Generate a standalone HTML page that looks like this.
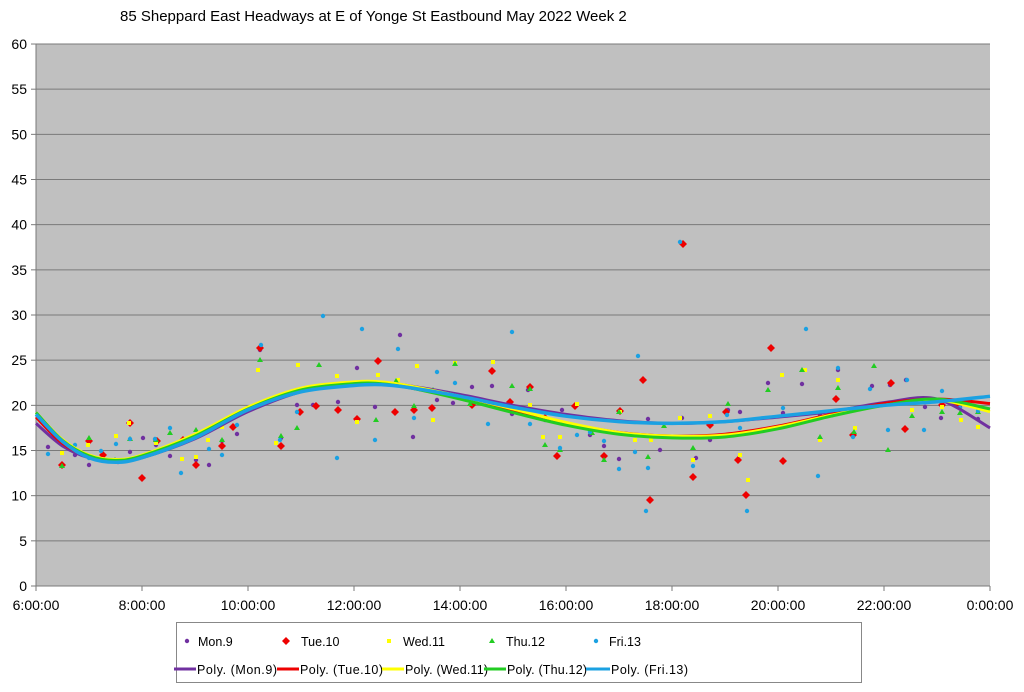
<!DOCTYPE html>
<html><head><meta charset="utf-8"><style>
body{margin:0;background:#fff;width:1024px;height:687px;overflow:hidden;font-family:"Liberation Sans",sans-serif}
</style></head><body>
<svg id="s" width="1024" height="687" xmlns="http://www.w3.org/2000/svg" font-family="Liberation Sans, sans-serif">
<text x="120" y="21" font-size="15" fill="#000">85 Sheppard East Headways at E of Yonge St Eastbound May 2022  Week 2</text>
<rect x="36" y="44" width="954" height="542" fill="#c0c0c0"/>
<g id="grid" stroke="#7a7a7a" stroke-width="1"></g>
<line x1="36" y1="44" x2="36" y2="586" stroke="#7a7a7a"/>
<line x1="36" y1="586" x2="990" y2="586" stroke="#7a7a7a"/>
<g id="lab" font-size="14" fill="#000"></g>
<g id="pts"></g>
<g id="curves" fill="none" stroke-width="3"></g>
<rect x="176.5" y="622.5" width="685" height="60" fill="#fff" stroke="#888"/>
<g font-size="12.5" fill="#000">
<circle cx="187" cy="641" r="2.2" fill="#7030a0"/><text x="198" y="646">Mon.9</text>
<path d="M286,637 l4,4 -4,4 -4,-4z" fill="#e00"/><text x="301" y="646">Tue.10</text>
<rect x="387" y="639" width="4" height="4" fill="#ff0"/><text x="403" y="646">Wed.11</text>
<path d="M492,638 l3,5 h-6z" fill="#22cc22"/><text x="506" y="646">Thu.12</text>
<circle cx="596" cy="641" r="2.2" fill="#1ba1e2"/><text x="609" y="646">Fri.13</text>
<line x1="174" y1="669" x2="196" y2="669" stroke="#7030a0" stroke-width="3"/><text x="197" y="674" textLength="80">Poly. (Mon.9)</text>
<line x1="277" y1="669" x2="299" y2="669" stroke="#e00" stroke-width="3"/><text x="300" y="674" textLength="83">Poly. (Tue.10)</text>
<line x1="382" y1="669" x2="404" y2="669" stroke="#ff0" stroke-width="3"/><text x="405" y="674" textLength="83">Poly. (Wed.11)</text>
<line x1="484" y1="669" x2="506" y2="669" stroke="#22cc22" stroke-width="3"/><text x="507" y="674" textLength="80">Poly. (Thu.12)</text>
<line x1="586" y1="669" x2="610" y2="669" stroke="#1ba1e2" stroke-width="3"/><text x="611" y="674" textLength="77">Poly. (Fri.13)</text>
</g>
</svg>
<script>
var NS="http://www.w3.org/2000/svg";
function el(p,t,a){var e=document.createElementNS(NS,t);for(var k in a)e.setAttribute(k,a[k]);document.getElementById(p).appendChild(e);return e;}
for(var v=0;v<=60;v+=5){var y=586-v*9.033;if(v>0)el("grid","line",{x1:36,x2:990,y1:y,y2:y});el("grid","line",{x1:31,x2:36,y1:y,y2:y});
var t=el("lab","text",{x:27,y:y+5,"text-anchor":"end"});t.textContent=v;}
var xl=["6:00:00","8:00:00","10:00:00","12:00:00","14:00:00","16:00:00","18:00:00","20:00:00","22:00:00","0:00:00"];
for(var i=0;i<10;i++){var x=36+i*106;el("grid","line",{x1:x,x2:x,y1:586,y2:591});var t=el("lab","text",{x:x,y:610,"text-anchor":"middle"});t.textContent=xl[i];}
var P={
mon:[[48,447],[75,455],[89,465],[103,455],[118,462],[130,452],[143,438],[156,445],[170,456],[183,440],[196,460],[209,465],[222,441],[237,434],[260,350],[281,438],[297,405],[313,405],[338,402],[357,368],[375,407],[400,335],[413,437],[437,400],[453,403],[472,387],[492,386],[512,414],[528,390],[545,420],[562,410],[590,435],[604,446],[619,459],[648,419],[660,450],[682,418],[696,458],[710,440],[728,410],[740,412],[768,383],[783,413],[802,384],[820,415],[838,370],[855,410],[872,386],[890,385],[906,380],[925,407],[941,418],[960,407],[978,419]],
tue:[[62,465],[89,441],[103,455],[130,423],[142,478],[157,441],[183,440],[196,465],[222,446],[233,427],[260,348],[281,446],[300,412],[316,406],[338,410],[357,419],[378,361],[395,412],[414,410],[432,408],[472,405],[492,371],[510,402],[530,387],[545,418],[557,456],[575,406],[604,456],[620,411],[643,380],[650,500],[683,244],[693,477],[710,425],[726,412],[738,460],[746,495],[771,348],[783,461],[836,399],[853,435],[891,383],[905,429],[942,405],[956,404]],
wed:[[62,453],[88,445],[116,436],[129,423],[156,443],[182,459],[196,457],[208,440],[222,427],[258,370],[276,443],[298,365],[337,376],[357,422],[378,375],[398,380],[417,366],[433,420],[455,363],[493,362],[530,405],[543,437],[560,437],[577,404],[620,412],[635,440],[651,440],[680,418],[693,460],[710,416],[740,455],[748,480],[782,375],[805,370],[820,440],[838,380],[855,428],[912,410],[942,407],[961,420],[978,427]],
thu:[[62,466],[89,438],[115,460],[130,439],[156,440],[170,433],[196,430],[222,440],[260,360],[281,436],[297,428],[319,365],[376,420],[396,381],[414,406],[433,390],[455,364],[470,404],[512,386],[530,389],[545,445],[560,450],[592,433],[604,460],[619,412],[648,457],[664,426],[693,448],[728,404],[768,390],[802,370],[820,437],[838,388],[854,432],[874,366],[888,450],[912,416],[942,412],[960,413],[978,412]],
fri:[[48,454],[75,445],[89,458],[101,451],[116,444],[130,439],[155,439],[170,428],[181,473],[209,449],[222,455],[237,425],[261,345],[280,440],[297,412],[323,316],[337,458],[362,329],[375,440],[398,349],[414,418],[437,372],[455,383],[488,424],[512,332],[530,424],[560,448],[577,435],[590,432],[604,441],[619,469],[635,452],[648,468],[638,356],[646,511],[680,242],[693,466],[710,437],[727,415],[740,428],[747,511],[783,408],[806,329],[818,476],[838,368],[853,437],[870,389],[888,430],[907,380],[924,430],[942,391],[960,408],[978,411]]};
P.mon.forEach(function(p){el("pts","circle",{cx:p[0],cy:p[1],r:2.2,fill:"#7030a0"});});
P.tue.forEach(function(p){el("pts","path",{d:"M"+p[0]+","+(p[1]-4)+"l4,4 -4,4 -4,-4z",fill:"#e00"});});
P.wed.forEach(function(p){el("pts","rect",{x:p[0]-2,y:p[1]-2,width:4,height:4,fill:"#ff0"});});
P.thu.forEach(function(p){el("pts","path",{d:"M"+p[0]+","+(p[1]-3)+"l3,5h-6z",fill:"#22cc22"});});
P.fri.forEach(function(p){el("pts","circle",{cx:p[0],cy:p[1],r:2.2,fill:"#1ba1e2"});});
var H=[6,6.5,7,7.5,8,9,10,11,12,12.5,13,14,15,16,17,18,19,20,21,22,23,24];
var C={
mon:[18,15.5,14.2,13.8,14.2,16.3,19.3,21.5,22.4,22.5,22.2,21.2,20,19,18.3,18,18.2,18.7,19.3,20.3,20.7,17.5],
tue:[18.7,15.8,14.3,13.8,14.2,16.4,19.5,21.7,22.4,22.4,22,20.8,19.4,18,17,16.6,16.8,17.7,19,20.2,20.7,20.2],
wed:[19.2,16.2,14.5,14,14.5,16.8,19.8,21.9,22.6,22.6,22.2,21,19.6,18.1,17,16.6,16.7,17.6,18.9,20,20.6,19.3],
thu:[19.2,16.1,14.4,13.9,14.4,16.6,19.6,21.7,22.4,22.4,22,20.7,19.2,17.8,16.8,16.4,16.5,17.4,18.8,20,20.7,19.6],
fri:[19,16,14.2,13.7,14.2,16.4,19.5,21.5,22.2,22.3,22,21,19.8,18.8,18.2,18,18.2,18.8,19.4,20,20.4,21]};
var col={mon:"#7030a0",tue:"#e00",wed:"#ff0",thu:"#22cc22",fri:"#1ba1e2"};
["mon","tue","wed","thu","fri"].forEach(function(k){
var pts=H.map(function(h,i){return [36+(h-6)*53,586-C[k][i]*9.033];});
var d="M"+pts[0][0]+","+pts[0][1];
for(var i=0;i<pts.length-1;i++){var p0=pts[Math.max(0,i-1)],p1=pts[i],p2=pts[i+1],p3=pts[Math.min(pts.length-1,i+2)];
d+="C"+(p1[0]+(p2[0]-p0[0])/6)+","+(p1[1]+(p2[1]-p0[1])/6)+" "+(p2[0]-(p3[0]-p1[0])/6)+","+(p2[1]-(p3[1]-p1[1])/6)+" "+p2[0]+","+p2[1];}
el("curves","path",{d:d,stroke:col[k],"stroke-width":k=="fri"?3.5:3});});
</script>
</body></html>
